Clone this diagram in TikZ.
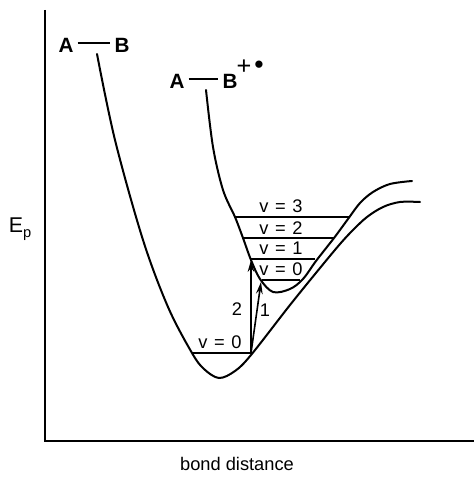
\documentclass[tikz,border=0pt]{standalone}
\usepackage{fontspec}
\setmainfont{Liberation Sans}
\usetikzlibrary{arrows.meta}
\tikzset{
  curve/.style={line width=1.5pt, line cap=round},
  axis/.style={line width=1.6pt},
  level/.style={line width=1.3pt},
  trans/.style={line width=1.2pt, -{Stealth[length=9pt,width=5pt]}},
  lab/.style={inner sep=0pt, anchor=base, font=\fontsize{13.7}{16}\selectfont},
  mol/.style={inner sep=0pt, font=\fontsize{15.5}{18}\selectfont\bfseries},
  bondline/.style={line width=1.3pt}
}
\newcommand{\eqsp}{\hspace{0.36em}}
\begin{document}
\begin{tikzpicture}[x=0.75pt,y=-0.75pt]
\useasboundingbox (0,0) rectangle (474,477);
% axes
\coordinate (top) at (45,10);
\coordinate (orig) at (45,441);
\coordinate (right) at (474,441);
\draw[axis, line join=miter] (top) -- (orig) -- (right);
\node[inner sep=0pt, font=\fontsize{16}{18}\selectfont] (ep) at (20,229) {E\raisebox{-0.45ex}{\fontsize{11}{12}\selectfont p}};
\node[lab] (xlab) at (237,470) {bond distance};
% lower curve (A-B)
\draw[curve] plot[smooth, tension=0.55] coordinates {(97,54) (115,140) (143,240) (168,307) (192,353) (204,369) (219,378) (235,371) (251,355) (290,305) (320,268) (340,244) (353,230) (367,217) (383,207) (400,202) (420,202)};
% upper curve (A-B+.)
\draw[curve] plot[smooth, tension=0.55] coordinates {(206,90) (213,147) (223,190) (235,217) (243,238) (251,260) (260,279) (273,292) (290,289) (303,279) (316,261) (334,238) (348,219) (360,203) (373,192) (390,184) (412,181)};
% vibrational levels
\coordinate (u3l) at (235,217); \coordinate (u3r) at (349,217);
\coordinate (u2l) at (243,238); \coordinate (u2r) at (334,238);
\coordinate (u1l) at (250,259); \coordinate (u1r) at (315,259);
\coordinate (u0l) at (262,280); \coordinate (u0r) at (300,280);
\coordinate (g0l) at (192,353); \coordinate (g0r) at (251,353);
\draw[level] (u3l) -- (u3r);
\draw[level] (u2l) -- (u2r);
\draw[level] (u1l) -- (u1r);
\draw[level] (u0l) -- (u0r);
\draw[level] (g0l) -- (g0r);
\node[lab] (lv3) at (281,212) {v\eqsp=\eqsp3};
\node[lab] (lv2) at (281,234) {v\eqsp=\eqsp2};
\node[lab] (lv1) at (281,254) {v\eqsp=\eqsp1};
\node[lab] (lv0) at (281,275) {v\eqsp=\eqsp0};
\node[lab] (lg0) at (220,348) {v\eqsp=\eqsp0};
% transitions
\coordinate (t2) at (251,260);
\coordinate (t1) at (261,282);
\draw[trans] (g0r) -- (t2);
\draw[trans] (g0r) -- (t1);
\node[lab] (n2) at (237,315) {2};
\node[lab] (n1) at (265,316) {1};
% molecule labels
\node[mol] (a1) at (66,45) {A};
\node[mol] (b1) at (122,45) {B};
\draw[bondline] ([xshift=3pt]a1.east |- 0,43) -- ([xshift=-3pt]b1.west |- 0,43);
\node[mol] (a2) at (177,81) {A};
\node[mol] (b2) at (230,81) {B};
\draw[bondline] ([xshift=3pt]a2.east |- 0,79) -- ([xshift=-3pt]b2.west |- 0,79);
\node[inner sep=0pt, font=\fontsize{19}{19}\selectfont] (plus) at (244,67) {+};
\node[inner sep=0pt, font=\fontsize{20}{20}\selectfont] (dot) at (259,67) {•};
\end{tikzpicture}
\end{document}
